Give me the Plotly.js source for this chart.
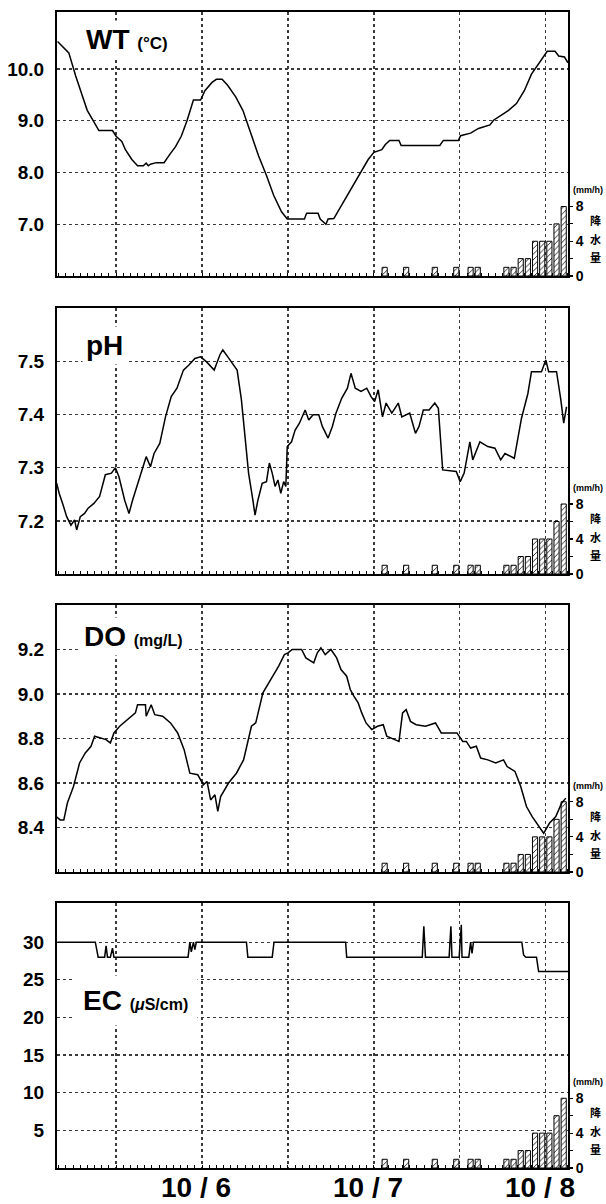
<!DOCTYPE html>
<html><head><meta charset="utf-8">
<script src="https://cdn.plot.ly/plotly-3.0.1.min.js"></script>
<style>html,body{margin:0;padding:0;background:#fff}#c{width:606px;height:1204px}</style>
</head><body><div id="c"></div>
<script>
// time in hours since 10/5 00:00
const wtHours=[3.83,4.7,5.4,6.35,7.16,7.97,8.8,9.6,11.5,12,12.8,13.3,14.2,15,15.8,16.2,16.5,16.8,17.6,18.7,19.5,20.3,21.1,21.9,22.8,23.8,24.4,25.4,26,26.8,27.6,28.7,29.7,30.8,31.9,33,34,35.1,35.9,38.3,38.6,40.2,40.5,41.3,41.6,42.4,43.2,44.3,45.3,46.4,47.2,48,49.1,49.6,50.2,51.5,51.8,57.2,57.7,59.8,60.1,61.5,62.6,64.2,64.7,65.8,66.8,67.9,69,70,71.1,72.2,73.3,73.8,74.6,75.1];
const wtValues=[10.53,10.4,10.31,9.87,9.52,9.2,9.0,8.81,8.81,8.7,8.6,8.44,8.25,8.13,8.13,8.18,8.13,8.16,8.19,8.19,8.35,8.5,8.7,9.0,9.4,9.4,9.58,9.74,9.8,9.8,9.68,9.46,9.2,8.76,8.32,7.94,7.56,7.24,7.1,7.1,7.21,7.21,7.1,7.0,7.1,7.11,7.3,7.56,7.81,8.06,8.25,8.39,8.44,8.54,8.62,8.62,8.52,8.52,8.62,8.62,8.71,8.76,8.85,8.92,9.01,9.11,9.2,9.33,9.58,9.9,10.12,10.34,10.34,10.25,10.23,10.12];

const phHours=[3.7,4.05,4.6,5.1,5.7,6.2,6.5,7.0,7.6,8.1,8.9,9.7,10.5,11.35,11.9,12.4,13.2,13.8,14.3,14.9,15.4,16.2,16.8,17.3,18.1,18.9,19.7,20.5,21.4,22.2,23,23.8,24.6,25.7,26.5,26.9,27.6,28.4,28.9,29.5,30,30.5,31.1,31.4,31.8,32.4,33,33.4,33.8,34.2,34.6,35,35.4,35.7,35.9,36.5,37,37.6,38.4,38.9,39.5,40.3,40.8,41.6,42.2,42.7,43.5,44.3,44.8,45.4,46.2,47,47.6,48.1,48.6,49.2,49.7,50.5,51.4,51.9,53,53.8,54.3,54.9,55.7,56.5,57,57.6,59.5,60.05,60.6,61.4,61.8,62.8,63.9,64.9,65.7,66.3,67.6,68.1,68.6,69.5,70,71.4,72,72.4,73.5,74.1,74.5,74.9];
const phValues=[7.271,7.252,7.23,7.208,7.192,7.202,7.183,7.208,7.214,7.224,7.233,7.246,7.287,7.29,7.3,7.283,7.239,7.214,7.239,7.265,7.29,7.321,7.302,7.327,7.346,7.396,7.434,7.45,7.484,7.494,7.506,7.509,7.5,7.484,7.513,7.522,7.509,7.494,7.484,7.428,7.365,7.29,7.239,7.211,7.239,7.271,7.274,7.309,7.29,7.265,7.277,7.252,7.274,7.265,7.34,7.349,7.371,7.384,7.409,7.39,7.4,7.4,7.378,7.356,7.378,7.403,7.431,7.45,7.478,7.45,7.444,7.45,7.434,7.425,7.447,7.396,7.422,7.403,7.422,7.396,7.403,7.365,7.378,7.409,7.409,7.422,7.412,7.296,7.293,7.274,7.29,7.349,7.315,7.349,7.34,7.337,7.315,7.327,7.318,7.352,7.393,7.44,7.481,7.481,7.503,7.481,7.481,7.428,7.384,7.415];

const doHours=[3.6,4.2,4.7,5.2,6.05,6.9,7.7,8.5,9.0,9.8,10.6,11.2,11.7,12.5,13.6,14.7,15,16.1,16.2,16.9,17.4,18.5,19.6,20.6,21.5,22.3,23.4,24.2,24.7,25.2,25.8,26.2,26.6,27.7,28.8,29.8,30.9,31.5,32.5,33.6,34.7,35.5,36,36.6,37.9,38.5,39.6,40.1,40.6,41.2,42,42.8,43.4,44.2,44.7,45.2,45.8,46.3,46.9,47.7,48.5,49.3,49.8,50.9,51.5,52,52.5,53.1,53.9,55.2,56.6,57.4,59.6,60.4,60.9,61.5,62.3,62.9,63.9,65,66.1,66.6,67.7,68.5,69.3,70.1,70.9,71.7,72.5,73.4,74.2,74.8];
const doValues=[8.45,8.434,8.434,8.51,8.584,8.69,8.735,8.765,8.81,8.802,8.795,8.78,8.825,8.855,8.885,8.915,8.952,8.952,8.9,8.952,8.907,8.9,8.87,8.825,8.75,8.644,8.637,8.592,8.607,8.524,8.547,8.472,8.539,8.6,8.644,8.704,8.855,8.87,9.005,9.065,9.125,9.177,9.185,9.2,9.2,9.162,9.14,9.185,9.207,9.177,9.2,9.162,9.11,9.08,9.02,8.99,8.96,8.915,8.87,8.84,8.855,8.862,8.81,8.795,8.787,8.915,8.93,8.877,8.862,8.855,8.87,8.825,8.825,8.787,8.787,8.757,8.765,8.712,8.704,8.69,8.704,8.674,8.652,8.584,8.494,8.449,8.412,8.374,8.419,8.449,8.509,8.532];

const ecHours=[3.8,9.1,9.5,10.4,10.6,10.8,11.2,11.5,11.7,22.05,22.3,22.5,22.8,23.0,23.2,30.2,30.4,33.8,34.05,44.05,44.2,54.75,54.97,55.2,58.5,58.75,58.9,59.9,60.2,60.3,61.25,61.5,61.7,61.9,68.65,68.9,69.2,70.7,71.0,75.1];
const ecValues=[30,30,28,28,29.5,28,28,29.2,28,28,30,28.7,30,29,30,30,28,28,30,30,28,28,32.1,28,28,32.1,28,28,32.3,28,28,30,28.5,30,30,28.3,28,28,26.1,26.1];

const rainHours=[49.5,52.5,56.5,59.5,61.5,62.5,66.5,67.5,68.5,69.5,70.5,71.5,72.5,73.5,74.5];
const rainValues=[1,1,1,1,1,1,1,1,2,2,4,4,4,6,8];

const gridHours=[12,24,36,48,60,72];
const dateHours=[24,48,72];
const dateLabels=['10 / 6','10 / 7','10 / 8'];
const rainTicks=[0,2,4,6,8];
const rainTickText=['0','','4','','8'];

const series=[
  {x:wtHours,y:wtValues,range:[6.0,11.1],ticks:[7,8,9,10],fmt:'.1f',title:"<b>WT</b> <span style='font-size:17px'><b>(°C)</b></span>",tx:82,ty:40},
  {x:phHours,y:phValues,range:[7.1,7.601],ticks:[7.2,7.3,7.4,7.5],fmt:'.1f',title:"<b>pH</b>",tx:82,ty:346},
  {x:doHours,y:doValues,range:[8.2,9.4],ticks:[8.4,8.6,8.8,9.0,9.2],fmt:'.1f',title:"<b>DO</b> <span style='font-size:16px'><b>(mg/L)</b></span>",tx:80,ty:636},
  {x:ecHours,y:ecValues,range:[0,35.2],ticks:[5,10,15,20,25,30],fmt:'d',title:"<b>EC</b> <span style='font-size:16px'><b>(<i>μ</i>S/cm)</b></span>",tx:73,ty:1000}
];
const panels=[{top:12,bottom:276},{top:308,bottom:574},{top:605,bottom:872},{top:903,bottom:1168}];

const W=606,H=1204;
const pxX=v=>v/W, pxY=v=>1-v/H;
const FONT='Liberation Sans, Arial, sans-serif';
const traces=[], annotations=[];
const layout={width:W,height:H,margin:{l:0,r:0,t:0,b:0},paper_bgcolor:'#fff',plot_bgcolor:'#fff',showlegend:false,annotations};

series.forEach((s,i)=>{
  const xs=i===0?'':String(i+1);
  const baseId=2*i+1, mainId=2*i+2;
  const baseKey='yaxis'+(baseId===1?'':baseId), mainKey='yaxis'+mainId;
  const baseRef='y'+(baseId===1?'':baseId), mainRef='y'+mainId;
  const p=panels[i];
  layout['xaxis'+xs]={
    domain:[pxX(57),pxX(568)],anchor:baseRef,range:[3.75,75.1],
    tickmode:'array',tickvals:gridHours,showticklabels:false,ticks:'',
    showgrid:true,gridcolor:'#3a3a3a',griddash:'dot',gridwidth:1.2,
    showline:true,mirror:true,linecolor:'#000',linewidth:2,zeroline:false,
    minor:{tickmode:'linear',tick0:0,dtick:1,ticks:'inside',ticklen:3,tickwidth:1,tickcolor:'#000',showgrid:false},
    fixedrange:true
  };
  if(i>0) layout['xaxis'+xs].matches='x';
  layout[baseKey]={
    domain:[pxY(p.bottom),pxY(p.top)],anchor:'x'+xs,side:'right',range:[0,30.4],
    tickmode:'array',tickvals:rainTicks,ticktext:rainTickText,ticks:'outside',ticklen:4,tickwidth:1.2,tickcolor:'#000',
    tickfont:{family:FONT,size:14,color:'#000',weight:'bold'},showgrid:false,zeroline:false,showline:false
  };
  layout[mainKey]={
    overlaying:baseRef,side:'left',anchor:'x'+xs,range:s.range,
    tickmode:'array',tickvals:s.ticks,tickformat:s.fmt,
    ticks:'outside',ticklen:7,tickcolor:'rgba(0,0,0,0)',
    tickfont:{family:FONT,size:19,color:'#000',weight:'bold'},
    showgrid:true,gridcolor:'#3a3a3a',griddash:'dot',gridwidth:1.2,
    showline:true,mirror:true,linecolor:'#000',linewidth:2,zeroline:false
  };
  traces.push({type:'bar',x:rainHours,y:rainValues,xaxis:'x'+xs,yaxis:baseRef,width:0.72,
    marker:{color:'#fff',line:{color:'#000',width:1},pattern:{shape:'/',fgcolor:'#000',bgcolor:'#fff',size:4,solidity:0.2}},hoverinfo:'skip'});
  traces.push({type:'scatter',mode:'lines',x:s.x,y:s.y,xaxis:'x'+xs,yaxis:mainRef,line:{color:'#000',width:1.5},hoverinfo:'skip'});
  annotations.push({xref:'paper',yref:'paper',x:pxX(s.tx),y:pxY(s.ty),xanchor:'left',yanchor:'middle',showarrow:false,
    text:s.title,font:{family:FONT,size:28,color:'#000'},bgcolor:'#fff',borderpad:i===3?9:3});
  annotations.push({xref:'paper',yref:'paper',x:pxX(588),y:pxY(p.bottom-86),xanchor:'center',yanchor:'middle',showarrow:false,
    text:'<b>(mm/h)</b>',font:{family:FONT,size:9,color:'#000'}});
  [['降',56],['水',37],['量',19]].forEach(([ch,off])=>{
    annotations.push({xref:'paper',yref:'paper',x:pxX(595),y:pxY(p.bottom-off),xanchor:'center',yanchor:'middle',showarrow:false,
      text:'<b>'+ch+'</b>',font:{family:'Noto Sans CJK JP, sans-serif',size:11,color:'#000'}});
  });
});
dateHours.forEach((h,k)=>{
  annotations.push({xref:'x4',yref:'paper',x:h-0.8,y:pxY(1187),xanchor:'center',yanchor:'middle',showarrow:false,
    text:'<b>'+dateLabels[k]+'</b>',font:{family:FONT,size:28,color:'#000'}});
});
layout.bargap=0;
Plotly.newPlot('c',traces,layout,{staticPlot:true,displayModeBar:false});
</script></body></html>
